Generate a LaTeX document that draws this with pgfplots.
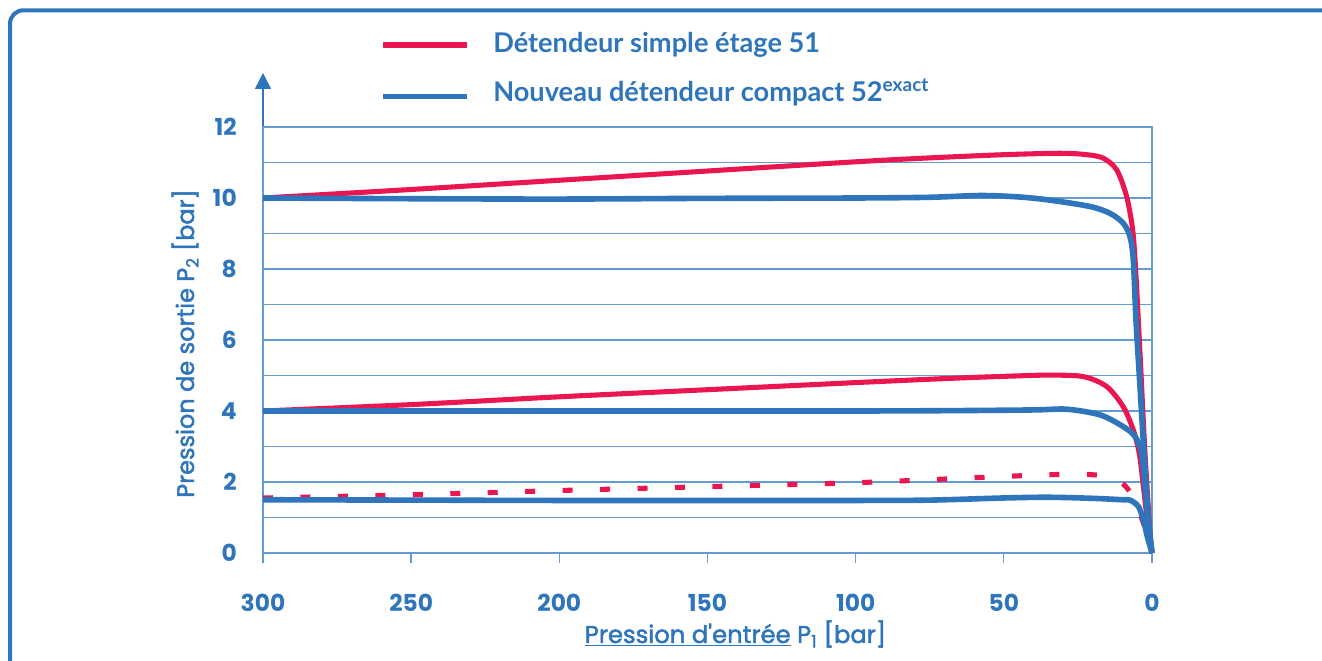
\documentclass[border=0pt]{standalone}
\usepackage{fontspec}
\setmainfont{Poppins}
\newfontfamily\legfont{Lato}
\newfontfamily\labfont{Poppins}[FakeBold=2]
\usepackage{pgfplots}
\pgfplotsset{compat=1.18}
\usetikzlibrary{arrows.meta}
\definecolor{cblue}{RGB}{47,117,187}
\definecolor{cred}{RGB}{233,22,80}
\definecolor{cgrid}{RGB}{100,155,210}

\pgfplotstableread{
x y
300 10
250 10.24
200 10.5
150 10.76
100 11.02
75 11.13
50 11.22
31 11.26
22 11.22
16.4 11.12
11.9 10.79
8.55 10.04
6.52 9.10
5.51 7.97
4.05 5.63
2.36 2.81
0.67 0.56
0 0
}\redhigh

\pgfplotstableread{
x y
300 10
250 9.98
200 9.97
150 9.99
100 10.0
75 10.02
58 10.07
45 10.03
34.4 9.94
20.9 9.76
14.2 9.57
9.7 9.29
7.42 8.91
6.3 8.25
5.4 6.56
4.05 4.69
2.7 2.81
1.24 0.93
0 0
}\bluehigh

\pgfplotstableread{
x y
300 4
250 4.18
200 4.4
150 4.6
100 4.8
68 4.92
45 4.99
34.4 5.01
23.2 4.97
15.3 4.69
9.7 4.12
6.3 3.46
4.3 2.81
2.9 1.87
1.57 0.93
0 0
}\redmid

\pgfplotstableread{
x y
300 4
250 4
200 4
150 4
100 4
68 4.01
40 4.03
28.7 4.05
17.5 3.89
9.7 3.56
5.7 3.28
3.5 2.81
2.36 1.87
1.24 0.93
0 0
}\bluemid

\pgfplotstableread{
x y
300 1.55
250 1.64
200 1.76
150 1.87
100 1.98
60 2.12
40 2.19
25 2.22
17 2.18
12 2.06
8.8 1.87
6 1.5
3.4 0.96
1.5 0.45
0 0
}\redlow

\pgfplotstableread{
x y
300 1.5
250 1.49
200 1.48
150 1.48
100 1.48
75 1.49
50 1.55
35 1.57
20 1.54
10 1.50
7.4 1.49
4.6 1.31
2.9 0.93
1.57 0.46
0 0
}\bluelow

\begin{document}
\begin{tikzpicture}[x=0.75pt,y=0.75pt]
\useasboundingbox (0,0) rectangle (1322,661);
% outer frame
\draw[cblue, line width=3pt, rounded corners=10pt] (10,-20) -- (10,650.7) -- (1340,650.7);
% y axis arrow
\draw[cblue, line width=1pt, -{Triangle[width=12pt,length=12pt]}] (263,108) -- (263,588);
\begin{axis}[
  at={(197.25pt,81pt)}, anchor=south west,
  scale only axis, width=666.75pt, height=319.5pt,
  x dir=reverse, xmin=0, xmax=300, ymin=0, ymax=12,
  clip=false,
  axis line style={cgrid, line width=1pt},
  xtick={0,50,...,300}, xtick pos=bottom,
  ytick={0,2,...,12}, minor ytick={1,3,...,11}, ytick pos=left,
  ymajorgrids, yminorgrids,
  grid style={cgrid, line width=1pt},
  minor grid style={cgrid, line width=1pt},
  tick align=outside, major tick length=7.5pt,
  x tick style={cgrid, line width=1pt},
  y tick style={draw=none}, minor y tick style={draw=none},
  ticklabel style={font=\fontsize{17.5}{20}\selectfont\bfseries, text=cblue, inner sep=0pt},
  /pgf/number format/assume math mode=true,
  yticklabel style={anchor=east, xshift=-12pt},
  xticklabel style={anchor=north, yshift=-23pt},
]
\addplot[cred, line width=3.8pt, smooth] table {\redhigh};
\addplot[cred, line width=3.8pt, smooth] table {\redmid};
\addplot[cred, line width=3.8pt, smooth, dash pattern=on 7.5pt off 20.6pt] table {\redlow};
\addplot[cblue, line width=4.2pt, smooth] table {\bluehigh};
\addplot[cblue, line width=4.2pt, smooth] table {\bluemid};
\addplot[cblue, line width=4.2pt, smooth] table {\bluelow};
\end{axis}
% legend
\draw[cred, line width=3.8pt] (383,616) -- (467,616);
\draw[cblue, line width=4.2pt] (383,564.5) -- (467,564.5);
\node[anchor=base west, inner sep=0pt, text=cblue, font=\legfont\fontsize{20.4}{22}\selectfont\bfseries] at (493,608) {Détendeur simple étage 51};
\node[anchor=base west, inner sep=0pt, text=cblue, font=\legfont\fontsize{20.4}{22}\selectfont\bfseries] at (493,559) {Nouveau détendeur compact 52\textsuperscript{exact}};
% axis titles
\node[anchor=base, inner sep=0pt, text=cblue, font=\labfont\fontsize{18.2}{20}\selectfont] at (735.5,18) {\underline{Pression d'entrée} P\textsubscript{1} [bar]};
\node[anchor=base, rotate=90, inner sep=0pt, text=cblue, font=\labfont\fontsize{18}{20}\selectfont] at (194,317.5) {Pression de sortie P\textsubscript{2} [bar]};
\end{tikzpicture}
\end{document}
